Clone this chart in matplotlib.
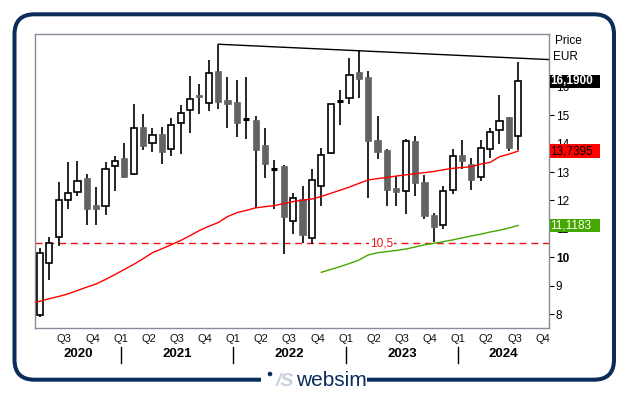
import matplotlib
matplotlib.use('Agg')
import matplotlib.pyplot as plt
from matplotlib.patches import Rectangle, FancyBboxPatch, Circle
from matplotlib.transforms import blended_transform_factory, IdentityTransform

plt.rcParams['font.family'] = ['Liberation Sans', 'DejaVu Sans']

# ---------------- data ----------------
months = ["2020-04", "2020-05", "2020-06", "2020-07", "2020-08", "2020-09", "2020-10", "2020-11", "2020-12",
          "2021-01", "2021-02", "2021-03", "2021-04", "2021-05", "2021-06", "2021-07", "2021-08", "2021-09",
          "2021-10", "2021-11", "2021-12", "2022-01", "2022-02", "2022-03", "2022-04", "2022-05", "2022-06",
          "2022-07", "2022-08", "2022-09", "2022-10", "2022-11", "2022-12", "2023-01", "2023-02", "2023-03",
          "2023-04", "2023-05", "2023-06", "2023-07", "2023-08", "2023-09", "2023-10", "2023-11", "2023-12",
          "2024-01", "2024-02", "2024-03", "2024-04", "2024-05", "2024-06", "2024-07"]
opens = [7.95, 9.81, 10.70, 12.01, 12.29, 12.79, 11.83, 11.80, 13.20,
         13.50, 12.92, 14.59, 14.01, 14.34, 13.80, 14.72, 15.18, 15.72,
         15.42, 16.56, 15.54, 15.47, 14.87, 14.84, 13.96, 13.11, 13.22,
         11.27, 12.04, 10.67, 12.50, 13.66, 15.49, 15.60, 16.53, 16.35,
         14.13, 13.78, 12.44, 12.32, 14.08, 12.64, 11.48, 11.13, 12.36,
         13.60, 13.27, 12.82, 13.80, 14.47, 14.94, 14.26]
highs = [10.32, 10.73, 12.65, 13.36, 13.39, 12.93, 12.48, 13.36, 13.57,
         14.03, 15.40, 15.05, 14.55, 14.59, 14.89, 15.36, 16.38, 16.10,
         16.95, 17.48, 16.33, 16.24, 16.33, 14.98, 14.55, 13.43, 13.25,
         12.27, 12.50, 13.10, 13.85, 15.39, 15.89, 17.00, 17.30, 16.54,
         14.98, 13.81, 12.86, 14.17, 14.27, 12.89, 11.55, 12.52, 13.80,
         14.13, 13.50, 14.13, 14.55, 15.72, 14.94, 16.88]
lows = [7.91, 9.20, 10.41, 11.71, 12.16, 11.12, 11.14, 11.50, 12.35,
        12.78, 12.90, 13.79, 13.69, 13.30, 13.58, 13.62, 14.38, 15.05,
        15.16, 15.21, 14.55, 14.25, 14.17, 11.74, 12.79, 11.71, 10.13,
        10.82, 10.49, 10.45, 11.81, 13.62, 14.64, 15.38, 15.60, 12.07,
        13.47, 11.82, 11.82, 11.54, 12.17, 11.33, 10.53, 11.01, 12.24,
        13.09, 12.36, 12.70, 13.50, 14.00, 13.74, 13.79]
closes = [10.14, 10.49, 12.02, 12.25, 12.69, 11.71, 11.71, 13.10, 13.38,
          12.84, 14.54, 13.90, 14.30, 13.69, 14.65, 15.07, 15.56, 15.63,
          16.48, 15.45, 15.38, 14.74, 14.87, 13.79, 13.30, 13.11, 11.40,
          12.08, 10.80, 12.71, 13.59, 15.39, 15.49, 16.41, 16.29, 14.11,
          13.69, 12.38, 12.28, 14.08, 12.63, 11.47, 11.08, 12.32, 13.56,
          13.40, 12.73, 13.84, 14.40, 14.81, 13.86, 16.19]

ma_red_months = ["2020-03"] + months
ma_red = [8.38, 8.45, 8.54, 8.62, 8.71, 8.83, 8.95, 9.06, 9.22, 9.39,
          9.57, 9.75, 9.95, 10.16, 10.30, 10.44, 10.59, 10.76, 10.94,
          11.09, 11.22, 11.43, 11.57, 11.65, 11.74, 11.78, 11.82, 11.89,
          11.96, 12.01, 12.05, 12.14, 12.25, 12.36, 12.47, 12.60, 12.72,
          12.77, 12.81, 12.86, 12.90, 12.94, 12.98, 13.02, 13.08, 13.13,
          13.16, 13.19, 13.28, 13.34, 13.54, 13.63, 13.74]

ma_green_months = months[30:]
ma_green = [9.47, 9.57, 9.67, 9.78, 9.90, 10.08, 10.16, 10.20, 10.24,
            10.29, 10.36, 10.44, 10.49, 10.55, 10.61, 10.68, 10.75, 10.81,
            10.89, 10.95, 11.03, 11.12]

trend_months = ["2021-11", "2024-07"]
trend_values = [17.50, 17.01]

support_level = 10.5
last_price = 16.19
last_red = 13.7395
last_green = 11.1183

y_ticks = [8, 9, 10, 11, 12, 13, 14, 15, 16]
quarter_starts = ["2020-07", "2020-10", "2021-01", "2021-04", "2021-07", "2021-10",
                  "2022-01", "2022-04", "2022-07", "2022-10", "2023-01", "2023-04",
                  "2023-07", "2023-10", "2024-01", "2024-04", "2024-07", "2024-10"]
years = [2020, 2021, 2022, 2023, 2024]

# ---------------- helpers ----------------
def mstart(s):
    y, m = map(int, s.split('-'))
    return (y - 2020) * 12 + (m - 1)

def mpos(s):
    return mstart(s) + 0.4

W, H = 629, 395
NAVY = '#0b2d5b'
fig = plt.figure(figsize=(W / 100, H / 100), dpi=100)
ax_l, ax_r, ax_t, ax_b = 35, 549.3, 34, 327.7
ax = fig.add_axes([ax_l / W, (H - ax_b) / H, (ax_r - ax_l) / W, (ax_b - ax_t) / H])
XMIN, XMAX = 2.876, 57.71
ax.set_xlim(XMIN, XMAX)
ax.set_ylim(7.52, 17.86)

# candles
bw = 0.66
for s, o, h, l, c in zip(months, opens, highs, lows, closes):
    x = mpos(s)
    ax.vlines(x, l, h, color='black', lw=1.2, zorder=2)
    if abs(c - o) < 0.02:
        ax.hlines(o, x - bw / 2, x + bw / 2, color='black', lw=2.2, zorder=3)
    elif c > o:
        ax.add_patch(Rectangle((x - bw / 2, o), bw, c - o, fc='white', ec='black', lw=1.2, zorder=3))
    else:
        ax.add_patch(Rectangle((x - bw / 2, c), bw, o - c, fc='#636363', ec='#636363', lw=0.5, zorder=3))

# moving averages
ax.plot([mpos(s) for s in ma_red_months], ma_red, color='#ff0000', lw=1.0, zorder=4)
ax.plot([mpos(s) for s in ma_green_months], ma_green, color='#44a800', lw=1.0, zorder=4)

# trend line
x1, x2 = mpos(trend_months[0]), mpos(trend_months[1])
slope = (trend_values[1] - trend_values[0]) / (x2 - x1)
ax.plot([x1, XMAX], [trend_values[0], trend_values[0] + slope * (XMAX - x1)], color='black', lw=1.0, zorder=4)

# support
ax.axhline(support_level, color='#ee1111', lw=1.0, dashes=(5, 3.5), zorder=1)
ax.text(39.8, support_level, "10,5", color='#ee1111', fontsize=8.5, ha='center', va='center',
        bbox=dict(boxstyle='square,pad=0.1', fc='white', ec='none'), zorder=5)

# spines & ticks
for sp in ax.spines.values():
    sp.set_color('#8a8a9a')
    sp.set_linewidth(1.0)
ax.set_xticks([])
ax.yaxis.tick_right()
ax.set_yticks(y_ticks)
ax.set_yticklabels([str(v) for v in y_ticks])
ax.tick_params(axis='y', direction='out', length=3.3, width=0.8, pad=1.5, labelsize=8.5, colors='black')
for t in ax.get_yticklabels():
    if t.get_text() == '10':
        t.set_fontweight('bold')

# x-axis labels
bt = blended_transform_factory(ax.transData, fig.transFigure)
for q in quarter_starts:
    m = int(q.split('-')[1])
    ax.text(mstart(q), (H - 339.5) / H, f"Q{(m - 1) // 3 + 1}", transform=bt, ha='center', va='center',
            fontsize=8, color='#111111', clip_on=False)
for y in years:
    a = max((y - 2020) * 12, XMIN)
    b = min((y - 2019) * 12, XMAX)
    ax.text((a + b) / 2, (H - 354) / H, str(y), transform=bt, ha='center', va='center',
            fontsize=9.5, fontweight='bold', color='black', clip_on=False)
    if (y - 2020) * 12 > XMIN:
        ax.plot([(y - 2020) * 12] * 2, [(H - 346.5) / H, (H - 362.7) / H], transform=bt, color='black',
                lw=1.0, clip_on=False)

# right side labels
fig.text(555 / W, (H - 41) / H, "Price", fontsize=8.5, va='center', ha='left')
fig.text(553 / W, (H - 57) / H, "EUR", fontsize=8.5, va='center', ha='left')

bf = blended_transform_factory(fig.transFigure, ax.transData)
box_h = 13.6 / 28.4
for val, fc, tc, fw in [(last_price, 'black', 'white', 'bold'),
                        (last_red, '#ff0000', 'black', 'normal'),
                        (last_green, '#44a800', 'white', 'normal')]:
    fig.add_artist(Rectangle((550 / W, val - box_h / 2), 50 / W, box_h, transform=bf,
                             fc=fc, ec='none', zorder=5))
    txt = f"{val:.4f}".replace('.', ',')
    fig.text(550.5 / W, val, txt, transform=bf, color=tc, fontsize=8.5, fontweight=fw,
             ha='left', va='center', zorder=6)

# outer frame
frame = FancyBboxPatch((14.5, H - 379.7), 614 - 14.5, 379.7 - 14.3,
                       boxstyle='round,pad=0,rounding_size=20', transform=IdentityTransform(),
                       fc='none', ec=NAVY, lw=2.9, zorder=2)
fig.add_artist(frame)
fig.add_artist(Rectangle((261, H - 386), 106, 12, transform=IdentityTransform(), fc='white', ec='none', zorder=3))
fig.add_artist(Circle((270, H - 374), 2.3, transform=IdentityTransform(), fc=NAVY, ec='none', zorder=4))
fig.text(285 / W, (H - 381) / H, "/S", fontsize=14, fontweight='bold', style='italic', color='#c6d0de',
         ha='center', va='center', zorder=4)
fig.text(331 / W, (H - 380.5) / H, "websim", fontsize=15, color=NAVY, ha='center', va='center', zorder=4,
         family=['Liberation Sans Narrow', 'DejaVu Sans Condensed', 'Liberation Sans'])

fig.savefig('out.png', dpi=100, facecolor='white')
